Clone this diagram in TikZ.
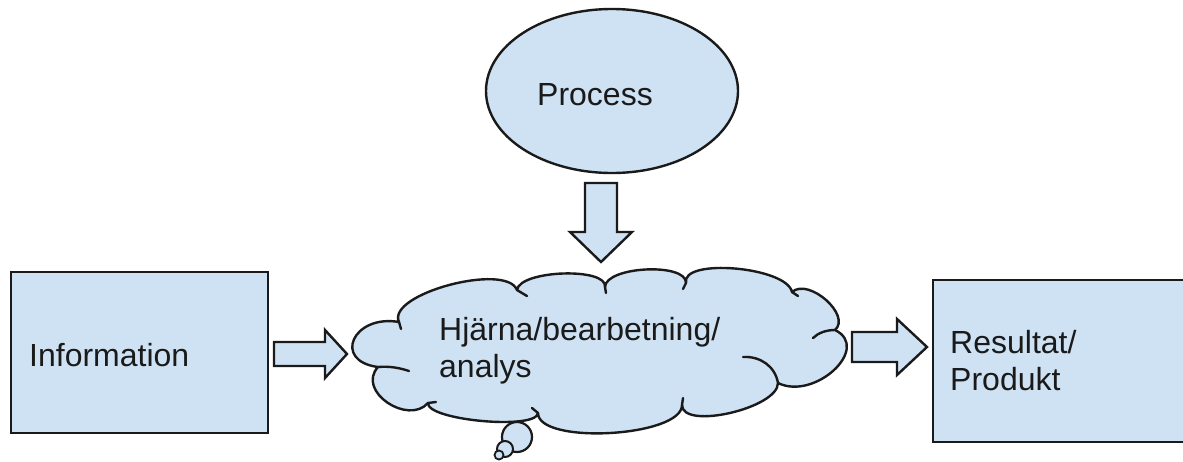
\documentclass[tikz,border=0pt]{standalone}
\usepackage{fontspec}
\setmainfont{Liberation Sans}
\usetikzlibrary{shapes.geometric}
\definecolor{lightblue}{HTML}{CFE2F3}
\definecolor{inkcol}{HTML}{1A1A1A}
\tikzset{
  shapebox/.style={draw=inkcol, fill=lightblue, line width=2.6pt, inner sep=0pt, rectangle},
  ovalbox/.style={draw=inkcol, fill=lightblue, line width=2.4pt, inner sep=0pt, ellipse},
  cloudline/.style={draw=inkcol, fill=lightblue, line width=2.4pt, line join=round},
  tailline/.style={draw=inkcol, line width=2.4pt, line cap=round},
  blockarrow/.style={draw=inkcol, fill=lightblue, line width=2.4pt, line join=miter},
  label/.style={font=\fontsize{32}{37}\selectfont, text=inkcol, inner sep=0pt, anchor=base west},
}
\begin{document}
\begin{tikzpicture}[x=1pt,y=-1pt]
\useasboundingbox (0,0) rectangle (1183,461);
\clip (0,0) rectangle (1183,461);
\fill[white] (0,0) rectangle (1183,461);

% boxes
\node[shapebox, minimum width=257pt, minimum height=161pt] (info) at (139.5,352.5) {};
\node[shapebox, minimum width=262pt, minimum height=162pt] (result) at (1064,361) {};
\node[ovalbox, minimum width=252pt, minimum height=164pt] (process) at (612,91) {};

% cloud
\path[cloudline] (399,322)
 .. controls (386,294) and (506.3,262) .. (517,290)
 .. controls (519.7,270) and (607.7,267) .. (605,287)
 .. controls (605.7,266.3) and (686.7,262.3) .. (686,283)
 .. controls (680.7,257.7) and (786.7,266.7) .. (792,292)
 .. controls (808.7,277.3) and (851.7,315.3) .. (835,330)
 .. controls (871.7,348) and (814.7,401) .. (778,383)
 .. controls (778,408.3) and (682,430.3) .. (682,405)
 .. controls (682,437) and (538,445) .. (538,413)
 .. controls (536.7,430.3) and (426.7,420.3) .. (428,403)
 .. controls (408,425.7) and (356,391) .. (378,367)
 .. controls (332,361) and (353,314) .. (399,322) -- cycle;
\coordinate (brain) at (600,355);

% inner tails of the cloud
\draw[tailline] (778,383) .. controls (775,366) and (760,356) .. (743,357);
\draw[tailline] (835,330) .. controls (826,330) and (818,333) .. (813,338);
\draw[tailline] (378,367) .. controls (390,366) and (400,368) .. (409,371);
\draw[tailline] (399,322) -- (401,329);
\draw[tailline] (517,290) -- (527,296);
\draw[tailline] (605,287) -- (606,293);
\draw[tailline] (686,283) -- (683,289);
\draw[tailline] (792,292) -- (798,296);
\draw[tailline] (682,405) -- (683,398);
\draw[tailline] (538,413) -- (532,408);
\draw[tailline] (428,403) -- (436,402);

% thought bubbles
\node[circle, draw=inkcol, fill=lightblue, line width=2.2pt, minimum size=30pt, inner sep=0pt] (bub1) at (517,437) {};
\node[circle, draw=inkcol, fill=lightblue, line width=2pt, minimum size=16pt, inner sep=0pt] (bub2) at (505,449) {};
\node[circle, draw=inkcol, fill=lightblue, line width=1.8pt, minimum size=9pt, inner sep=0pt] (bub3) at (499,455) {};

% block arrows
\path[blockarrow] (274,342) -- (325,342) -- (325,330) -- (347,354) -- (325,378) -- (325,366) -- (274,366) -- cycle;
\path[blockarrow] (852,332) -- (897,332) -- (897,319) -- (927,347) -- (897,375) -- (897,362) -- (852,362) -- cycle;
\path[blockarrow] (585,183) -- (617,183) -- (617,232) -- (632,232) -- (601,262) -- (570,232) -- (585,232) -- cycle;

% texts
\node[label] (tproc) at (537,105) {Process};
\node[label] (tinfo) at (29,366) {Information};
\node[label] (tbrain1) at (439,340) {Hjärna/bearbetning/};
\node[label] (tbrain2) at (439,377) {analys};
\node[label] (tres1) at (950,353) {Resultat/};
\node[label] (tres2) at (950,390) {Produkt};
\end{tikzpicture}
\end{document}
